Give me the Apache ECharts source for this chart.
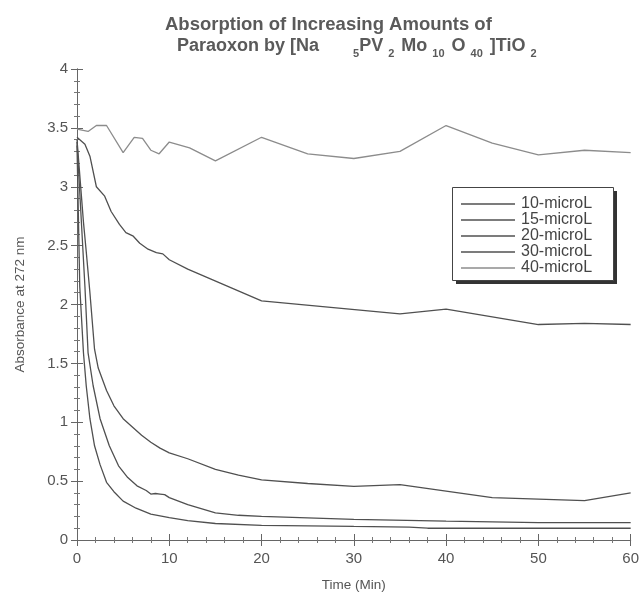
<!DOCTYPE html>
<html><head><meta charset="utf-8">
<script src="https://cdn.jsdelivr.net/npm/echarts@6/dist/echarts.min.js"></script>
<style>html,body{margin:0;padding:0;background:#fff}#c{width:642px;height:597px}</style>
</head><body><div id="c"></div>
<script>
const seriesNames = ['10-microL','15-microL','20-microL','30-microL','40-microL'];
const xTickLabels = [0,10,20,30,40,50,60];
const yTickLabels = [0,0.5,1,1.5,2,2.5,3,3.5,4];

const t10 = [0,0.3,0.5,0.7,1,1.4,1.9,2.5,3.2,4,5,6.4,8,10,12,15,20,30,36,38,50,60];
const v10 = [3.35,2.15,1.87,1.59,1.31,1.03,0.80,0.64,0.49,0.41,0.33,0.27,0.22,0.19,0.165,0.14,0.125,0.115,0.11,0.10,0.10,0.10];

const t15 = [0,0.86,1.2,1.75,2.5,3.5,4.5,5.5,6.5,7.5,8,8.5,9,9.5,10,12,15,17.5,20,30,40,50,60];
const v15 = [3.38,2.15,1.59,1.31,1.03,0.80,0.63,0.53,0.46,0.42,0.39,0.395,0.39,0.385,0.36,0.30,0.23,0.21,0.20,0.176,0.16,0.148,0.148];

const t20 = [0,0.7,1,1.4,1.9,2.3,3.2,4,5,6,7,8,9,10,12,15,17.5,20,25,30,35,45,55,60];
const v20 = [3.40,2.7,2.45,2.1,1.62,1.46,1.27,1.14,1.03,0.96,0.89,0.83,0.78,0.74,0.69,0.60,0.55,0.51,0.48,0.455,0.47,0.36,0.335,0.40];

const t30 = [0,0.86,1.4,2.1,3,3.7,4.6,5.3,6.1,6.8,7.7,8.6,9.3,10,12,20,35,40,50,55,60];
const v30 = [3.42,3.36,3.26,3.00,2.92,2.79,2.68,2.61,2.58,2.52,2.47,2.44,2.43,2.38,2.30,2.03,1.92,1.96,1.83,1.84,1.83];

const t40 = [0,1.2,2.1,3.2,5,6.2,7.1,8,8.9,10,12.2,15,20,25,30,35,40,45,50,55,60];
const v40 = [3.49,3.47,3.52,3.52,3.29,3.42,3.41,3.31,3.28,3.38,3.33,3.22,3.42,3.28,3.24,3.30,3.52,3.37,3.27,3.31,3.29];

const times = [t10,t15,t20,t30,t40];
const values = [v10,v15,v20,v30,v40];
const lineColors = ['#505050','#505050','#505050','#505050','#8c8c8c'];

const FONT = 'Liberation Sans, Arial, sans-serif';
const TITLE_COLOR = '#5a5a5a';
const chart = echarts.init(document.getElementById('c'), null, {renderer:'canvas'});

function pairs(t, v){ return t.map((x,i)=>[x, v[i]]); }

const axisCommon = {
  axisLine:{show:true, lineStyle:{color:'#666', width:1}},
  axisTick:{show:true, inside:true, length:6, lineStyle:{color:'#666'}},
  minorTick:{show:true, splitNumber:5, length:3, lineStyle:{color:'#777'}},
  splitLine:{show:false},
  minorSplitLine:{show:false}
};

const option = {
  backgroundColor:'#fff',
  animation:false,
  textStyle:{fontFamily:FONT},
  title:[
    {text:'Absorption of Increasing Amounts of', left:160, top:10,
     textStyle:{fontFamily:FONT, fontSize:18.5, fontWeight:'bold', color:TITLE_COLOR}},
    {text:'{m|Paraoxon by [Na}{g|}{s|5}{m|PV}{s2|2}{m|Mo}{s2|10}{m|O}{s2|40}{m|]TiO}{s2|2}',
     left:172, top:28,
     textStyle:{fontFamily:FONT, rich:{
       m:{fontFamily:FONT, fontSize:18, fontWeight:'bold', color:TITLE_COLOR, lineHeight:26},
       s:{fontFamily:FONT, fontSize:11, fontWeight:'bold', color:TITLE_COLOR, lineHeight:6, verticalAlign:'bottom'},
       s2:{fontFamily:FONT, fontSize:11, fontWeight:'bold', color:TITLE_COLOR, lineHeight:6, verticalAlign:'bottom', padding:[0,7,0,5]},
       g:{width:34, lineHeight:26}
     }}}
  ],
  graphic:[
    {type:'rect', z:20, silent:true, shape:{x:456, y:191, width:161, height:93}, style:{fill:'#333'}},
    {type:'rect', z:21, silent:true, shape:{x:452.5, y:187.5, width:161, height:93}, style:{fill:'#fff', stroke:'#444', lineWidth:1}}
  ],
  grid:{left:77, right:7, top:69, bottom:51, containLabel:false},
  legend:{
    data:seriesNames, orient:'vertical', left:452, top:187, z:30,
    icon:'rect', itemWidth:54, itemHeight:1.3, itemGap:0,
    padding:[9,0,0,9],
    textStyle:{fontFamily:FONT, fontSize:16, color:'#444', lineHeight:14.5, padding:[0,0,0,1]}
  },
  xAxis:[
    Object.assign({type:'value', min:0, max:60, interval:10, position:'bottom',
      axisLabel:{show:true, fontSize:15, color:'#555', margin:11, fontFamily:FONT,
        formatter:v=> xTickLabels.includes(v) ? String(v) : ''},
      name:'Time (Min)', nameLocation:'middle', nameGap:38,
      nameTextStyle:{fontSize:13.5, color:'#555', fontFamily:FONT}}, axisCommon),
    Object.assign({type:'value', min:0, max:60, interval:10, position:'top',
      axisLabel:{show:false}}, axisCommon)
  ],
  yAxis:[
    Object.assign({type:'value', min:0, max:4, interval:0.5, position:'left',
      axisLabel:{show:true, fontSize:15, color:'#555', margin:9, fontFamily:FONT,
        formatter:v=> yTickLabels.includes(v) ? String(v) : ''},
      name:'Absorbance at 272 nm', nameLocation:'middle', nameGap:50, nameRotate:90,
      nameTextStyle:{fontSize:13.5, color:'#555', fontFamily:FONT}}, axisCommon),
    Object.assign({type:'value', min:0, max:4, interval:0.5, position:'right',
      axisLabel:{show:false}}, axisCommon)
  ],
  series: seriesNames.map((n,i)=>({
    name:n, type:'line', xAxisIndex:0, yAxisIndex:0,
    data:pairs(times[i], values[i]),
    symbol:'none', smooth:false,
    lineStyle:{color:lineColors[i], width:1.3},
    itemStyle:{color:lineColors[i]}
  }))
};
chart.setOption(option);
</script>
</body></html>
